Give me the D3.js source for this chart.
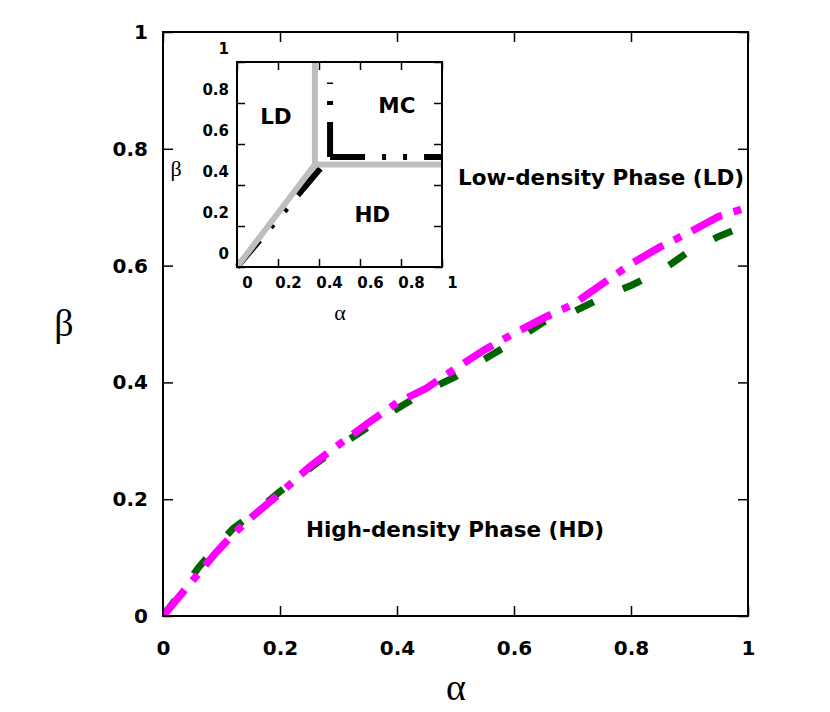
<!DOCTYPE html>
<html>
<head>
<meta charset="utf-8">
<script src="https://cdn.jsdelivr.net/npm/d3@7"></script>
<style>
body { margin: 0; background: #fff; }
svg { display: block; }
.tick text { font-family: "DejaVu Sans", sans-serif; font-weight: bold; fill: #000; }
</style>
</head>
<body>
<div id="svg"></div>
<script>
// main plot: beta vs alpha boundary, two curves
var alpha = [0, 0.03, 0.06, 0.09, 0.12, 0.15, 0.2, 0.25, 0.3, 0.35, 0.4, 0.45, 0.5,
    0.55, 0.6, 0.65, 0.7, 0.75, 0.8, 0.85, 0.9, 0.95, 1.0];
var betaGreen = [0, 0.04, 0.082, 0.118, 0.15, 0.172, 0.213, 0.252, 0.29, 0.323, 0.355,
    0.385, 0.41, 0.44, 0.47, 0.503, 0.52, 0.545, 0.566, 0.59, 0.625, 0.65, 0.67];
var betaMagenta = [0, 0.036, 0.072, 0.108, 0.14, 0.168, 0.21, 0.255, 0.293, 0.33, 0.365,
    0.39, 0.424, 0.456, 0.484, 0.51, 0.533, 0.568, 0.603, 0.632, 0.657, 0.684, 0.70];
var ticks = [0, 0.2, 0.4, 0.6, 0.8, 1];

// inset phase diagram lines, [alpha, beta]
var grayLines = [
    [[0, 0], [0.38, 0.5]],
    [[0.38, 0.5], [0.38, 1]],
    [[0.38, 0.5], [1, 0.5]]
];
var blackLines = [
    [[0, 0], [0.454, 0.537]],
    [[0.454, 0.537], [0.454, 0.9]],
    [[0.454, 0.537], [1, 0.537]]
];
var insetRegions = [
    {text: "LD", a: 0.19, b: 0.7},
    {text: "MC", a: 0.78, b: 0.75},
    {text: "HD", a: 0.66, b: 0.22}
];

var W = 830, H = 712;
var svg = d3.select("#svg").append("svg").attr("width", W).attr("height", H);

var x = d3.scaleLinear().domain([0, 1]).range([163, 748]);
var y = d3.scaleLinear().domain([0, 1]).range([616, 32]);

var fmt = function(d) { return d === 0 || d === 1 ? d3.format("d")(d) : d3.format(".1f")(d); };

// main axes (ticks inward, mirrored)
var gx = svg.append("g").attr("transform", "translate(0,616)")
    .call(d3.axisBottom(x).tickValues(ticks).tickSize(-10).tickPadding(25).tickFormat(fmt));
var gy = svg.append("g").attr("transform", "translate(163,0)")
    .call(d3.axisLeft(y).tickValues(ticks).tickSize(-10).tickPadding(15).tickFormat(fmt));
svg.append("g").attr("transform", "translate(0,32)")
    .call(d3.axisTop(x).tickValues(ticks).tickSize(-10).tickFormat(""));
svg.append("g").attr("transform", "translate(748,0)")
    .call(d3.axisRight(y).tickValues(ticks).tickSize(-10).tickFormat(""));
svg.selectAll(".domain").remove();
svg.selectAll(".tick line").attr("stroke", "#000").attr("stroke-width", 1.5);
gx.selectAll("text").style("font-size", "20px");
gy.selectAll("text").style("font-size", "20px");

svg.append("clipPath").attr("id", "clip").append("rect")
    .attr("x", 163).attr("y", 32).attr("width", 585).attr("height", 584);

var line = d3.line()
    .x(function(d) { return x(d[0]); })
    .y(function(d) { return y(d[1]); });

svg.append("path")
    .datum(alpha.map(function(a, i) { return [a, betaGreen[i]]; }))
    .attr("clip-path", "url(#clip)")
    .attr("fill", "none").attr("stroke", "#006400").attr("stroke-width", 7)
    .attr("stroke-dasharray", "20,32")
    .attr("d", line);
svg.append("path")
    .datum(alpha.map(function(a, i) { return [a, betaMagenta[i]]; }))
    .attr("clip-path", "url(#clip)")
    .attr("fill", "none").attr("stroke", "#ff00ff").attr("stroke-width", 7.5)
    .attr("stroke-dasharray", "34,12,8,12")
    .attr("d", line);

svg.append("rect").attr("x", 163).attr("y", 32).attr("width", 585).attr("height", 584)
    .attr("fill", "none").attr("stroke", "#000").attr("stroke-width", 2);

svg.append("text").attr("x", 455).attr("y", 537).attr("text-anchor", "middle")
    .style("font-family", "DejaVu Sans").style("font-weight", "bold").style("font-size", "21.5px")
    .text("High-density Phase (HD)");
svg.append("text").attr("x", 601).attr("y", 185).attr("text-anchor", "middle")
    .style("font-family", "DejaVu Sans").style("font-weight", "bold").style("font-size", "21.5px")
    .text("Low-density Phase (LD)");

svg.append("text").attr("x", 456).attr("y", 700).attr("text-anchor", "middle")
    .style("font-family", "Liberation Serif").style("font-size", "38px").text("α");
svg.append("text").attr("x", 64).attr("y", 336).attr("text-anchor", "middle")
    .style("font-family", "Liberation Serif").style("font-size", "38px").text("β");

// inset
var ix = d3.scaleLinear().domain([0, 1]).range([237, 442]);
var iy = d3.scaleLinear().domain([0, 1]).range([267, 62]);
var inset = svg.append("g");
inset.append("rect").attr("x", 237).attr("y", 62).attr("width", 205).attr("height", 205)
    .attr("fill", "#fff");

var igx = inset.append("g").attr("transform", "translate(0,267)")
    .call(d3.axisBottom(ix).tickValues(ticks).tickSize(-8).tickPadding(10).tickFormat(fmt));
var igy = inset.append("g").attr("transform", "translate(237,0)")
    .call(d3.axisLeft(iy).tickValues(ticks).tickSize(-8).tickPadding(8).tickFormat(fmt));
inset.append("g").attr("transform", "translate(0,62)")
    .call(d3.axisTop(ix).tickValues(ticks).tickSize(-8).tickFormat(""));
inset.append("g").attr("transform", "translate(442,0)")
    .call(d3.axisRight(iy).tickValues(ticks).tickSize(-8).tickFormat(""));
inset.selectAll(".domain").remove();
inset.selectAll(".tick line").attr("stroke", "#000").attr("stroke-width", 1.5);
igx.selectAll("text").style("font-size", "15px").attr("dx", 10);
igy.selectAll("text").style("font-size", "15px").attr("transform", "translate(0,-13)");

var iline = d3.line()
    .x(function(d) { return ix(d[0]); })
    .y(function(d) { return iy(d[1]); });

inset.selectAll(".black").data(blackLines).enter().append("path")
    .attr("class", "black")
    .attr("fill", "none").attr("stroke", "#000").attr("stroke-width", 6)
    .attr("stroke-dasharray", "35,17,4,17,4,17")
    .attr("d", iline);
inset.selectAll(".gray").data(grayLines).enter().append("path")
    .attr("class", "gray")
    .attr("fill", "none").attr("stroke", "#bebebe").attr("stroke-width", 6)
    .attr("d", iline);

inset.selectAll(".region").data(insetRegions).enter().append("text")
    .attr("x", function(d) { return ix(d.a); })
    .attr("y", function(d) { return iy(d.b); })
    .attr("text-anchor", "middle")
    .style("font-family", "DejaVu Sans").style("font-weight", "bold").style("font-size", "21.5px")
    .text(function(d) { return d.text; });

inset.append("rect").attr("x", 237).attr("y", 62).attr("width", 205).attr("height", 205)
    .attr("fill", "none").attr("stroke", "#000").attr("stroke-width", 2);

inset.append("text").attr("x", 340).attr("y", 320).attr("text-anchor", "middle")
    .style("font-family", "Liberation Serif").style("font-size", "22px").text("α");
inset.append("text").attr("x", 176).attr("y", 176).attr("text-anchor", "middle")
    .style("font-family", "Liberation Serif").style("font-size", "22px").text("β");
</script>
</body>
</html>
